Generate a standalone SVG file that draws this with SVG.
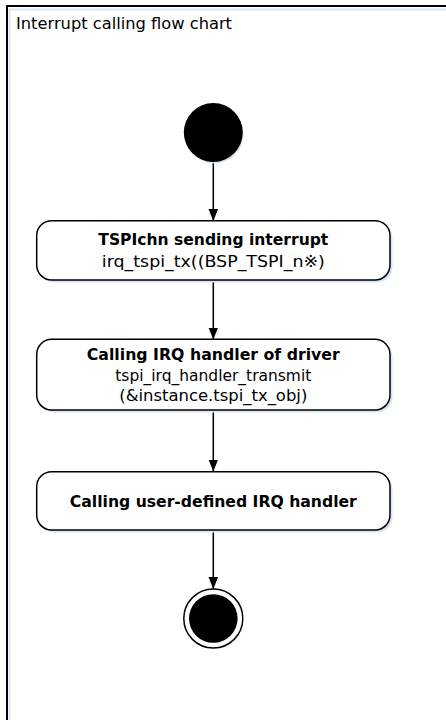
<svg xmlns="http://www.w3.org/2000/svg" width="446" height="720" viewBox="0 0 446 720">
<defs>
<style>
.frame{fill:#fff;stroke:#000;stroke-width:2}
.fshadow{fill:none;stroke:#dbe8f5;stroke-width:2}
.box{fill:#fff;stroke:#000;stroke-width:1.5}
.shadow{fill:#d6e4f3;stroke:none}
.b{font-family:"DejaVu Sans",Verdana,sans-serif;font-weight:bold;font-size:16px;fill:#000;text-anchor:middle}
.r{font-family:"DejaVu Sans",Verdana,sans-serif;font-size:16px;fill:#000;text-anchor:middle}
.t{font-family:"DejaVu Sans",Verdana,sans-serif;font-size:16px;fill:#000}
.edge{stroke:#000;stroke-width:1.5;fill:none;marker-end:url(#arr)}
</style>
<marker id="arr" markerWidth="12" markerHeight="15" refX="15" refY="6" orient="auto" markerUnits="userSpaceOnUse" viewBox="0 0 15 12">
<path d="M0,0 L15,6 L0,12 Z" fill="#000"/>
</marker>
</defs>
<g id="frame">
<rect class="frame" x="7" y="6" width="460" height="740"/>
<path class="fshadow" d="M9.5,746 V9.5 H467"/>
<text class="t" x="16" y="29.3" textLength="216" lengthAdjust="spacingAndGlyphs">Interrupt calling flow chart</text>
</g>
<g id="connectors">
<line class="edge" x1="213.3" y1="162" x2="213.3" y2="221"/>
<line class="edge" x1="213.3" y1="280" x2="213.3" y2="339.5"/>
<line class="edge" x1="213.3" y1="410" x2="213.3" y2="471.5"/>
<line class="edge" x1="213.3" y1="530" x2="213.3" y2="589"/>
</g>
<g id="start">
<circle class="shadow" cx="214.5" cy="134.5" r="29"/>
<circle cx="213.3" cy="132.5" r="29.5" fill="#000"/>
</g>
<g id="node1">
<rect class="shadow" x="38.5" y="223" width="354" height="59.5" rx="15"/>
<rect class="box" x="36.7" y="220.7" width="353.3" height="59.3" rx="15"/>
<text class="b" x="213.3" y="245.3" textLength="230" lengthAdjust="spacingAndGlyphs">TSPIchn sending interrupt</text>
<text class="r" x="213.3" y="266.8" textLength="223" lengthAdjust="spacingAndGlyphs">irq_tspi_tx((BSP_TSPI_n※)</text>
</g>
<g id="node2">
<rect class="shadow" x="38.5" y="341.5" width="354" height="71" rx="15"/>
<rect class="box" x="36.7" y="339.3" width="353.3" height="70.7" rx="15"/>
<text class="b" x="213.3" y="360.3" textLength="253" lengthAdjust="spacingAndGlyphs">Calling IRQ handler of driver</text>
<text class="r" x="213.3" y="381" textLength="196" lengthAdjust="spacingAndGlyphs">tspi_irq_handler_transmit</text>
<text class="r" x="213.3" y="400.7" textLength="188" lengthAdjust="spacingAndGlyphs">(&amp;instance.tspi_tx_obj)</text>
</g>
<g id="node3">
<rect class="shadow" x="38.5" y="474" width="354" height="58.5" rx="15"/>
<rect class="box" x="36.7" y="471.7" width="353.3" height="58.3" rx="15"/>
<text class="b" x="213.3" y="507.3" textLength="287" lengthAdjust="spacingAndGlyphs">Calling user-defined IRQ handler</text>
</g>
<g id="end">
<circle cx="213.3" cy="618.5" r="29.5" fill="#fff" stroke="#000" stroke-width="1.5"/>
<circle cx="213.3" cy="618.5" r="24.3" fill="#000"/>
</g>
</svg>
